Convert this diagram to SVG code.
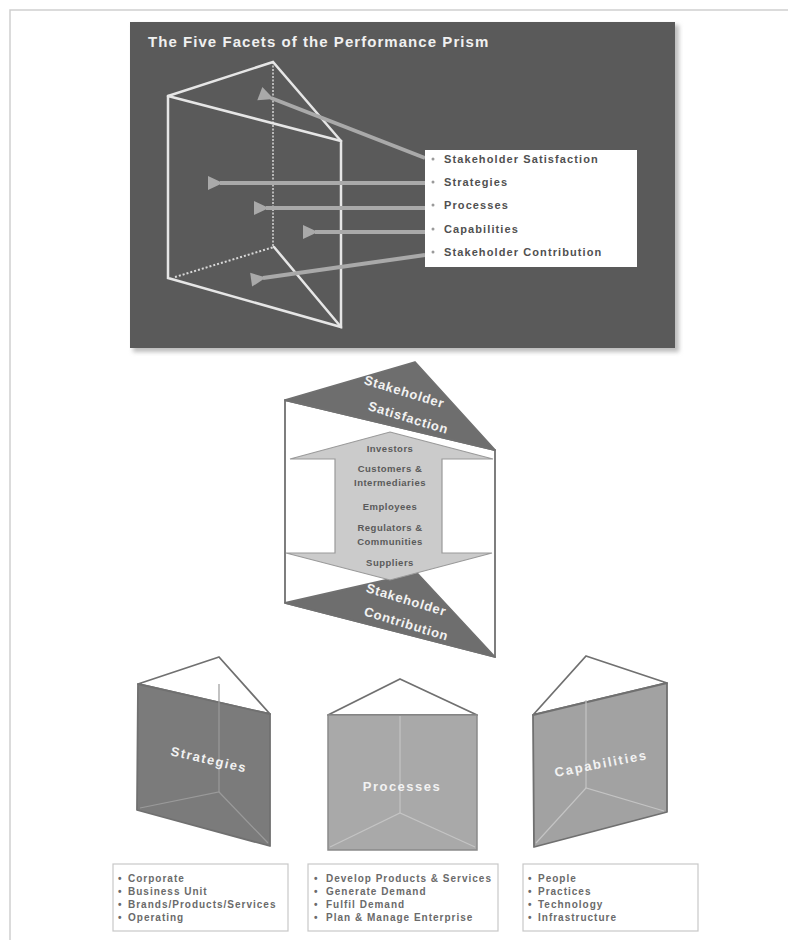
<svg xmlns="http://www.w3.org/2000/svg" width="788" height="940" viewBox="0 0 788 940">
<defs>
<style>
.frame{stroke:#cfcfcf;stroke-width:1.5;fill:none}
.pl{stroke:#e6e6e6;stroke-width:2.5;fill:none;stroke-linecap:round}
.arr{stroke:#a9a9a9;stroke-width:4;fill:none}
.li{font-family:"Liberation Sans",Arial,sans-serif;font-size:11px;font-weight:bold;fill:#505050;letter-spacing:1.1px}
.bul{fill:#9a9a9a}
.mid{font-family:"Liberation Sans",Arial,sans-serif;font-size:9.5px;font-weight:bold;fill:#5a5a5a;text-anchor:middle;letter-spacing:0.5px}
.wt{font-family:"Liberation Sans",Arial,sans-serif;font-weight:bold;fill:#f2f2f2;text-anchor:middle;font-size:13px;letter-spacing:0.8px}
.wb{letter-spacing:1.5px}
.edge{stroke:#707070;stroke-width:1.8;stroke-linejoin:round}
.inner{stroke-width:1.2;fill:none}
.box{fill:#fff;stroke:#c8c8c8;stroke-width:1.2}
.bt{font-family:"Liberation Sans",Arial,sans-serif;font-size:10px;font-weight:bold;fill:#6a6a6a;letter-spacing:1px}
</style>
<marker id="ah" markerUnits="userSpaceOnUse" markerWidth="16" markerHeight="16" refX="3" refY="8" orient="auto">
<path d="M15,1 L0,8 L15,15 Z" fill="#a9a9a9"/>
</marker>
<filter id="sh" x="-5%" y="-5%" width="112%" height="112%"><feGaussianBlur stdDeviation="2"/></filter>
</defs>
<rect width="788" height="940" fill="#ffffff"/>
<path class="frame" d="M10,940 L10,10 L788,10"/>

<g id="panel">
<rect x="133" y="25" width="546" height="327" fill="#bdbdbd" filter="url(#sh)"/>
<rect x="130" y="22" width="545" height="326" fill="#5a5a5a"/>
<text x="148" y="47" font-family="Liberation Sans,Arial,sans-serif" font-size="15" font-weight="bold" fill="#f0f0f0" letter-spacing="1.05">The Five Facets of the Performance Prism</text>
</g>

<g id="top-prism">
<line x1="273" y1="62" x2="273" y2="247" stroke="#d8d8d8" stroke-width="1.5" stroke-dasharray="2 1.5"/>
<line x1="175" y1="277" x2="274" y2="247" stroke="#d8d8d8" stroke-width="2" stroke-dasharray="2 2"/>
<line class="pl" x1="274" y1="247" x2="341" y2="327" stroke-width="2"/>
<polyline class="pl" points="168,96 273,62 341,141"/>
<polyline class="pl" points="168,96 341,141 341,327 168,278 168,96"/>
</g>

<g id="connectors">
<line class="arr" x1="425" y1="158" x2="271" y2="98" marker-end="url(#ah)"/>
<line class="arr" x1="425" y1="183" x2="220" y2="183" marker-end="url(#ah)"/>
<line class="arr" x1="425" y1="208" x2="266" y2="208" marker-end="url(#ah)"/>
<line class="arr" x1="425" y1="232" x2="315" y2="232" marker-end="url(#ah)"/>
<line class="arr" x1="425" y1="255" x2="263" y2="278" marker-end="url(#ah)"/>
</g>

<g id="facet-list">
<rect x="425" y="150" width="212" height="117" fill="#ffffff"/>
<circle class="bul" cx="433" cy="159" r="1.5"/>
<text class="li" x="444" y="163">Stakeholder Satisfaction</text>
<circle class="bul" cx="433" cy="182" r="1.5"/>
<text class="li" x="444" y="186">Strategies</text>
<circle class="bul" cx="433" cy="205" r="1.5"/>
<text class="li" x="444" y="209">Processes</text>
<circle class="bul" cx="433" cy="229" r="1.5"/>
<text class="li" x="444" y="233">Capabilities</text>
<circle class="bul" cx="433" cy="252" r="1.5"/>
<text class="li" x="444" y="256">Stakeholder Contribution</text>
</g>

<g id="stakeholder-prism">
<polygon class="edge" points="285,400 495,450 495,657 285,603" style="fill:#ffffff"/>
<polygon class="edge" points="285,400 415,362 495,450" style="fill:#6e6e6e"/>
<polygon class="edge" points="285,603 417,573 495,657" style="fill:#6e6e6e"/>
<text class="wt" transform="translate(403,396) rotate(17)">Stakeholder</text>
<text class="wt" transform="translate(407,422) rotate(17)">Satisfaction</text>
<text class="wt" transform="translate(405,604) rotate(17)">Stakeholder</text>
<text class="wt" transform="translate(405,628) rotate(17)">Contribution</text>
<polygon points="390,432 493,459 442,459 442,553 492,553 390,580 286,553 335,553 335,459 290,459" fill="#cbcbcb" stroke="#9a9a9a" stroke-width="1.2"/>
<text class="mid" x="390" y="452">Investors</text>
<text class="mid" x="390" y="472">Customers &amp;</text>
<text class="mid" x="390" y="486">Intermediaries</text>
<text class="mid" x="390" y="510">Employees</text>
<text class="mid" x="390" y="531">Regulators &amp;</text>
<text class="mid" x="390" y="545">Communities</text>
<text class="mid" x="390" y="566">Suppliers</text>
</g>

<g id="strategies">
<polygon class="edge" points="138,684 219,657 270,714" style="fill:#ffffff"/>
<polygon class="edge" points="138,684 270,714 270,846 137,810" style="fill:#7b7b7b"/>
<line class="inner" x1="219" y1="684" x2="219" y2="792" style="stroke:#9a9a9a"/>
<polyline class="inner" points="140,808 219,792 268,843" style="stroke:#9a9a9a"/>
<text class="wt wb" transform="translate(208,764) rotate(13)">Strategies</text>
</g>

<g id="processes">
<polygon class="edge" points="328,715 400,679 477,715" style="fill:#ffffff"/>
<rect x="328" y="715" width="149" height="135" fill="#a9a9a9" stroke="#8a8a8a" stroke-width="1.5"/>
<line class="inner" x1="400" y1="716" x2="400" y2="813" style="stroke:#c4c4c4"/>
<polyline class="inner" points="330,847 400,813 475,847" style="stroke:#c4c4c4"/>
<text class="wt wb" x="402" y="791">Processes</text>
</g>

<g id="capabilities">
<polygon class="edge" points="533,715 586,656 667,683" style="fill:#ffffff"/>
<polygon class="edge" points="533,715 667,683 667,812 534,847" style="fill:#a2a2a2"/>
<line class="inner" x1="586" y1="700" x2="586" y2="788" style="stroke:#c4c4c4"/>
<polyline class="inner" points="536,843 586,788 664,811" style="stroke:#c4c4c4"/>
<text class="wt wb" transform="translate(602,768) rotate(-11)" style="letter-spacing:1.8px">Capabilities</text>
</g>

<g id="strategies-list">
<rect class="box" x="113" y="864" width="175" height="67"/>
<text class="bt" x="118" y="882">•</text><text class="bt" x="128" y="882">Corporate</text>
<text class="bt" x="118" y="895">•</text><text class="bt" x="128" y="895">Business Unit</text>
<text class="bt" x="118" y="908">•</text><text class="bt" x="128" y="908">Brands/Products/Services</text>
<text class="bt" x="118" y="921">•</text><text class="bt" x="128" y="921">Operating</text>
</g>

<g id="processes-list">
<rect class="box" x="308" y="864" width="190" height="67"/>
<text class="bt" x="314" y="882">•</text><text class="bt" x="326" y="882">Develop Products &amp; Services</text>
<text class="bt" x="314" y="895">•</text><text class="bt" x="326" y="895">Generate Demand</text>
<text class="bt" x="314" y="908">•</text><text class="bt" x="326" y="908">Fulfil Demand</text>
<text class="bt" x="314" y="921">•</text><text class="bt" x="326" y="921">Plan &amp; Manage Enterprise</text>
</g>

<g id="capabilities-list">
<rect class="box" x="523" y="864" width="175" height="67"/>
<text class="bt" x="528" y="882">•</text><text class="bt" x="538" y="882">People</text>
<text class="bt" x="528" y="895">•</text><text class="bt" x="538" y="895">Practices</text>
<text class="bt" x="528" y="908">•</text><text class="bt" x="538" y="908">Technology</text>
<text class="bt" x="528" y="921">•</text><text class="bt" x="538" y="921">Infrastructure</text>
</g>
</svg>
